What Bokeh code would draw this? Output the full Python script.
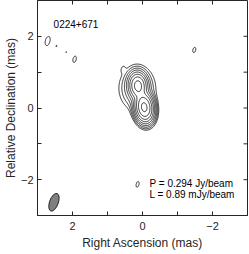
import numpy as np
from bokeh.plotting import figure
from bokeh.models import Range1d, FixedTicker, Label
from bokeh.embed import file_html
from bokeh.resources import INLINE

# ---- data ----
source_name = "0224+671"
peak_text = "P = 0.294 Jy/beam"
low_text = "L = 0.89 mJy/beam"
peak_flux = 0.294      # Jy/beam
lowest_level = 0.00089  # Jy/beam
n_levels = 9            # contours at L * 2^k

# Gaussian model components of the image (mas, Jy/beam, deg)
comp_x = [-0.05, 0.13, 0.15, 2.71, 2.46, 2.18, 1.94, -1.48, 0.56, 0.14]
comp_y = [0.02, 0.62, 0.55, 1.87, 1.73, 1.56, 1.36, 1.62, 1.09, -2.13]
comp_peak = [0.28, 0.15, 0.008, 0.00125, 0.00092, 0.00091, 0.0011, 0.00105, 0.00092, 0.00105]
comp_smaj = [0.19, 0.17, 0.30, 0.16, 0.08, 0.08, 0.14, 0.13, 0.08, 0.14]
comp_smin = [0.12, 0.12, 0.25, 0.08, 0.05, 0.05, 0.07, 0.07, 0.05, 0.07]
comp_pa = [8, 5, 0, -15, -15, -15, -15, -15, -15, -15]

# restoring beam
beam_x = [2.53]
beam_y = [-2.63]
beam_major = [0.52]
beam_minor = [0.25]
beam_pa = [-20]

ticks_major = [-2, 0, 2]
ticks_minor = [-3, -1, 1, 3]
ticks_all = [-2, -1, 0, 1, 2]
x_lim = (3, -3)
y_lim = (-3, 3)

# ---- image grid ----
gx = np.linspace(-3, 3, 361)
gy = np.linspace(-3, 3, 361)
X, Y = np.meshgrid(gx, gy)
Z = np.zeros_like(X)
for x0, y0, pk, smj, smn, pa in zip(comp_x, comp_y, comp_peak, comp_smaj, comp_smin, comp_pa):
    t = np.deg2rad(pa)
    dx, dy = X - x0, Y - y0
    a = dx * np.sin(t) + dy * np.cos(t)
    b = dx * np.cos(t) - dy * np.sin(t)
    Z += pk * np.exp(-0.5 * (a ** 2 / smj ** 2 + b ** 2 / smn ** 2))
levels = [lowest_level * 2 ** k for k in range(n_levels)]

FONT = "Liberation Sans"
AX = "#262626"
W, H = 249, 254
BL, BR, BT, BB = 33, 2, 0, 39

p = figure(width=W, height=H, output_backend="svg", toolbar_location=None,
           x_range=Range1d(*x_lim), y_range=Range1d(*y_lim),
           min_border_left=BL, min_border_right=BR, min_border_top=BT, min_border_bottom=BB,
           x_axis_label="Right Ascension (mas)", y_axis_label="Relative Declination (mas)")
p.grid.visible = False
p.outline_line_color = AX
p.background_fill_color = "white"
p.border_fill_color = "white"

for ax in [p.xaxis[0], p.yaxis[0]]:
    ax.ticker = FixedTicker(ticks=ticks_major, minor_ticks=ticks_minor)
    ax.major_tick_in = 4
    ax.major_tick_out = 0
    ax.minor_tick_in = 4
    ax.minor_tick_out = 0
    ax.axis_line_color = AX
    ax.major_tick_line_color = AX
    ax.minor_tick_line_color = AX
    ax.major_label_text_font = FONT
    ax.major_label_text_font_size = "11px"
    ax.major_label_text_color = AX
    ax.axis_label_text_font = FONT
    ax.axis_label_text_font_size = "12px"
    ax.axis_label_text_font_style = "normal"
    ax.axis_label_text_color = AX
p.xaxis[0].major_label_standoff = 6
p.xaxis[0].axis_label_standoff = 3
p.yaxis[0].major_label_standoff = 4
p.yaxis[0].axis_label_standoff = 0

# inward ticks on the top and right frame edges, 4 px long
fw = W - BL - BR
fh = H - BT - BB
tlx = 4 * abs(x_lim[1] - x_lim[0]) / fw
tly = 4 * abs(y_lim[1] - y_lim[0]) / fh
n = len(ticks_all)
p.segment(x0=ticks_all, y0=[y_lim[1]] * n, x1=ticks_all, y1=[y_lim[1] - tly] * n,
          line_color=AX, line_width=1)
p.segment(x0=[x_lim[1]] * n, y0=ticks_all, x1=[x_lim[1] + tlx] * n, y1=ticks_all,
          line_color=AX, line_width=1)

p.contour(gx, gy, Z, levels=levels, line_color="black", line_width=0.8)

p.ellipse(x=beam_x, y=beam_y, width=beam_minor, height=beam_major,
          angle=np.deg2rad(beam_pa), angle_units="rad",
          fill_color="#808080", line_color="black", line_width=0.8)

p.add_layout(Label(x=2.54, y=2.34, text=source_name, text_font=FONT, text_font_size="10px",
                   text_baseline="middle", text_align="left", text_color="black"))
p.add_layout(Label(x=-0.2, y=-2.1, text=peak_text, text_font=FONT, text_font_size="10px",
                   text_baseline="middle", text_align="left", text_color="black"))
p.add_layout(Label(x=-0.2, y=-2.42, text=low_text, text_font=FONT, text_font_size="10px",
                   text_baseline="middle", text_align="left", text_color="black"))

html = file_html(p, INLINE)
html = html.replace("<body>", '<body style="margin:0;overflow:hidden">', 1)
open("out.html", "w").write(html)
